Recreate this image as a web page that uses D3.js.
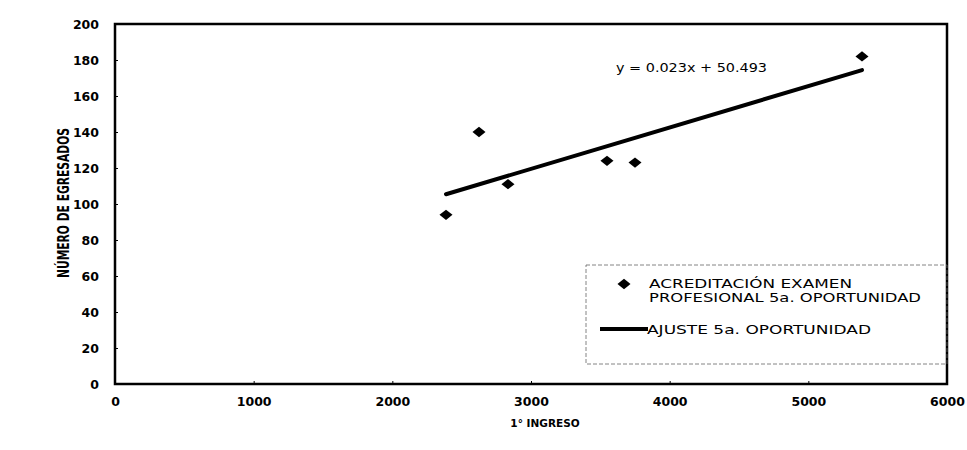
<!DOCTYPE html>
<html><head><meta charset="utf-8">
<script src="https://cdn.jsdelivr.net/npm/d3@7"></script>
<style>
body{margin:0;background:#fff;}
text{font-family:"DejaVu Sans",sans-serif;fill:#000;}
</style></head>
<body><svg id="c" width="967" height="450"></svg>
<script>
const ingreso = [2387, 2625, 2834, 3548, 3750, 5387];
const egresados = [94, 140, 111, 124, 123, 182];
const slope = 0.023, intercept = 50.493;
const xTicks = [0, 1000, 2000, 3000, 4000, 5000, 6000];
const yTicks = [0, 20, 40, 60, 80, 100, 120, 140, 160, 180, 200];
const legendLabels = [["ACREDITACIÓN EXAMEN", "PROFESIONAL 5a. OPORTUNIDAD"], ["AJUSTE 5a. OPORTUNIDAD"]];
const equationText = "y = 0.023x + 50.493";
const xTitle = "1° INGRESO", yTitle = "NÚMERO DE EGRESADOS";

const svg = d3.select("#c");
const L = 115, R = 947, T = 24, B = 384;
const x = d3.scaleLinear().domain([0, 6000]).range([L, R]);
const y = d3.scaleLinear().domain([0, 200]).range([B, T]);

// frame
svg.append("rect").attr("x", L).attr("y", T).attr("width", R - L).attr("height", B - T)
  .attr("fill", "none").attr("stroke", "#000").attr("stroke-width", 2.5);

// axes
const xa = svg.append("g").attr("transform", `translate(0,${B})`)
  .call(d3.axisBottom(x).tickValues(xTicks).tickSize(-3).tickPadding(13).tickFormat(d3.format("d")));
const ya = svg.append("g").attr("transform", `translate(${L},0)`)
  .call(d3.axisLeft(y).tickValues(yTicks).tickSize(-3).tickPadding(16).tickFormat(d3.format("d")));
[xa, ya].forEach(g => {
  g.select(".domain").remove();
  g.selectAll("line").attr("stroke", "#000");
  g.selectAll("text").attr("font-size", 12.5).attr("font-weight", "bold")
    .attr("font-family", "'DejaVu Sans',sans-serif");
});

// titles
svg.append("text").attr("x", 545).attr("y", 427).attr("text-anchor", "middle")
  .attr("font-size", 10.5).attr("font-weight", "bold").text(xTitle);
svg.append("text").attr("transform", "translate(69,203) rotate(-90)").attr("text-anchor", "middle")
  .attr("font-size", 15.5).attr("font-weight", "bold")
  .attr("font-family", "'DejaVu Sans Condensed','DejaVu Sans',sans-serif")
  .attr("textLength", 150).attr("lengthAdjust", "spacingAndGlyphs").text(yTitle);

// trend line
const xr = d3.extent(ingreso);
const line = d3.line().x(d => x(d)).y(d => y(slope * d + intercept));
svg.append("path").datum(xr).attr("d", line).attr("fill", "none")
  .attr("stroke", "#000").attr("stroke-width", 4).attr("stroke-linecap", "round");

// points
const diamond = d3.symbol().type(d3.symbolDiamond).size(70);
const dScale = "scale(1.45,0.66)";
svg.selectAll(".pt").data(ingreso).join("path").attr("class", "pt")
  .attr("transform", (d, i) => `translate(${x(d)},${y(egresados[i])}) ${dScale}`)
  .attr("d", diamond).attr("fill", "#000");

// equation
svg.append("text").attr("x", 616).attr("y", 72).attr("font-size", 12.5)
  .attr("textLength", 151).attr("lengthAdjust", "spacingAndGlyphs")
  .text(equationText);

// legend
svg.append("rect").attr("x", 586).attr("y", 265).attr("width", R - 586).attr("height", 99)
  .attr("fill", "none").attr("stroke", "#666").attr("stroke-width", 0.8).attr("stroke-dasharray", "4,2");
svg.append("path").attr("d", diamond).attr("fill", "#000")
  .attr("transform", `translate(624,284) ${dScale}`);
svg.append("text").attr("x", 649).attr("y", 288).attr("font-size", 13)
  .attr("textLength", 203).attr("lengthAdjust", "spacingAndGlyphs").text(legendLabels[0][0]);
svg.append("text").attr("x", 649).attr("y", 302).attr("font-size", 13)
  .attr("textLength", 272).attr("lengthAdjust", "spacingAndGlyphs").text(legendLabels[0][1]);
svg.append("line").attr("x1", 600).attr("x2", 648).attr("y1", 329).attr("y2", 329)
  .attr("stroke", "#000").attr("stroke-width", 4);
svg.append("text").attr("x", 647).attr("y", 334).attr("font-size", 13)
  .attr("textLength", 224).attr("lengthAdjust", "spacingAndGlyphs").text(legendLabels[1][0]);
</script></body></html>
